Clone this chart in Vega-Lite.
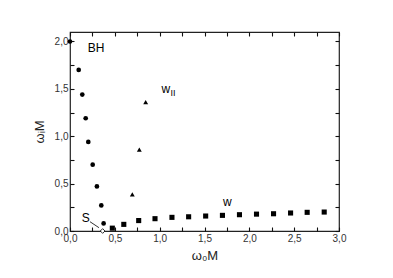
{
  "$schema": "https://vega.github.io/schema/vega-lite/v6.json",
  "width": 269,
  "height": 199,
  "autosize": "none",
  "padding": {"left": 70, "top": 32, "right": 54, "bottom": 47},
  "background": "white",
  "config": {
    "view": {"stroke": "#222", "strokeWidth": 1.2},
    "axis": {"zindex": 1, "domain": false, "offset": -4, "tickSize": 4, "labelFont": "Liberation Sans", "titleFont": "Liberation Sans", "labelColor": "#333", "titleColor": "#222", "tickColor": "#111", "tickWidth": 1.1, "ticks": true, "grid": false}
  },
  "datasets": {
    "pts": [
      {"x": 0.0, "y": 2.0, "series": "BH"},
      {"x": 0.097, "y": 1.70, "series": "BH"},
      {"x": 0.137, "y": 1.44, "series": "BH"},
      {"x": 0.175, "y": 1.19, "series": "BH"},
      {"x": 0.204, "y": 0.94, "series": "BH"},
      {"x": 0.253, "y": 0.70, "series": "BH"},
      {"x": 0.300, "y": 0.47, "series": "BH"},
      {"x": 0.349, "y": 0.27, "series": "BH"},
      {"x": 0.375, "y": 0.08, "series": "BH"},
      {"x": 0.844, "y": 1.36, "series": "wII"},
      {"x": 0.773, "y": 0.86, "series": "wII"},
      {"x": 0.695, "y": 0.386, "series": "wII"},
      {"x": 0.472, "y": 0.03, "series": "w"},
      {"x": 0.600, "y": 0.07, "series": "w"},
      {"x": 0.766, "y": 0.11, "series": "w"},
      {"x": 0.948, "y": 0.13, "series": "w"},
      {"x": 1.137, "y": 0.144, "series": "w"},
      {"x": 1.323, "y": 0.15, "series": "w"},
      {"x": 1.513, "y": 0.158, "series": "w"},
      {"x": 1.700, "y": 0.165, "series": "w"},
      {"x": 1.890, "y": 0.172, "series": "w"},
      {"x": 2.080, "y": 0.178, "series": "w"},
      {"x": 2.270, "y": 0.182, "series": "w"},
      {"x": 2.460, "y": 0.19, "series": "w"},
      {"x": 2.645, "y": 0.197, "series": "w"},
      {"x": 2.835, "y": 0.20, "series": "w"}
    ],
    "sp": [{"x": 0.364, "y": 0.0}],
    "arrow": [{"x": 0.223, "y": 0.098, "x2": 0.323, "y2": 0.035}],
    "labels": [
      {"x": 0.29, "y": 1.93, "label": "BH", "kind": "main"},
      {"x": 1.07, "y": 1.50, "label": "w", "kind": "main"},
      {"x": 1.15, "y": 1.46, "label": "II", "kind": "sub"},
      {"x": 1.755, "y": 0.31, "label": "w", "kind": "main"},
      {"x": 0.175, "y": 0.14, "label": "S", "kind": "main"}
    ]
  },
  "layer": [
    {
      "data": {"name": "pts"},
      "mark": {"type": "point", "filled": true, "opacity": 1, "color": "black"},
      "encoding": {
        "x": {"field": "x", "type": "quantitative", "scale": {"domain": [0, 3], "nice": false, "zero": false},
              "axis": {"orient": "bottom", "values": [0, 0.25, 0.5, 0.75, 1, 1.25, 1.5, 1.75, 2, 2.25, 2.5, 2.75, 3], "labelExpr": "datum.value * 2 % 1 == 0 ? replace(format(datum.value, '.1f'), '.', ',') : ''", "labelPadding": 2, "labelFontSize": 10, "title": "ω₀M", "titleFontSize": 13, "titleFontWeight": "normal", "titlePadding": 6, "labelFlush": false}},
        "y": {"field": "y", "type": "quantitative", "scale": {"domain": [0, 2.1], "nice": false, "zero": false},
              "axis": {"orient": "left", "values": [0, 0.25, 0.5, 0.75, 1, 1.25, 1.5, 1.75, 2], "labelExpr": "datum.value * 2 % 1 == 0 ? replace(format(datum.value, '.1f'), '.', ',') : ''", "labelPadding": 2, "labelFontSize": 10, "title": "ωᵢM", "titleFontSize": 13, "titleFontWeight": "normal", "titlePadding": 8, "labelFlush": false}},
        "shape": {"field": "series", "type": "nominal", "scale": {"domain": ["BH", "wII", "w"], "range": ["circle", "triangle-up", "square"]}, "legend": null},
        "size": {"field": "series", "type": "nominal", "scale": {"domain": ["BH", "wII", "w"], "range": [22, 26, 20]}, "legend": null}
      }
    },
    {
      "data": {"name": "sp"},
      "mark": {"type": "point", "shape": "diamond", "filled": false, "color": "black", "size": 22, "strokeWidth": 0.8, "fill": "white", "opacity": 1},
      "encoding": {
        "x": {"field": "x", "type": "quantitative", "axis": {"orient": "top", "values": [0, 0.25, 0.5, 0.75, 1, 1.25, 1.5, 1.75, 2, 2.25, 2.5, 2.75, 3], "labels": false, "title": null}},
        "y": {"field": "y", "type": "quantitative", "axis": {"orient": "right", "values": [0, 0.25, 0.5, 0.75, 1, 1.25, 1.5, 1.75, 2], "labels": false, "title": null}}
      }
    },
    {
      "data": {"name": "arrow"},
      "mark": {"type": "rule", "color": "black", "strokeWidth": 0.8},
      "encoding": {
        "x": {"field": "x", "type": "quantitative", "axis": null},
        "y": {"field": "y", "type": "quantitative", "axis": null},
        "x2": {"field": "x2"},
        "y2": {"field": "y2"}
      }
    },
    {
      "data": {"name": "labels"},
      "transform": [{"filter": "datum.kind == 'main'"}],
      "mark": {"type": "text", "font": "Liberation Sans", "fontSize": 12, "fill": "black"},
      "encoding": {
        "x": {"field": "x", "type": "quantitative", "axis": null},
        "y": {"field": "y", "type": "quantitative", "axis": null},
        "text": {"field": "label"}
      }
    },
    {
      "data": {"name": "labels"},
      "transform": [{"filter": "datum.kind == 'sub'"}],
      "mark": {"type": "text", "font": "Liberation Sans", "fontSize": 9, "fill": "black"},
      "encoding": {
        "x": {"field": "x", "type": "quantitative", "axis": null},
        "y": {"field": "y", "type": "quantitative", "axis": null},
        "text": {"field": "label"}
      }
    }
  ],
  "resolve": {"axis": {"x": "independent", "y": "independent"}}
}
